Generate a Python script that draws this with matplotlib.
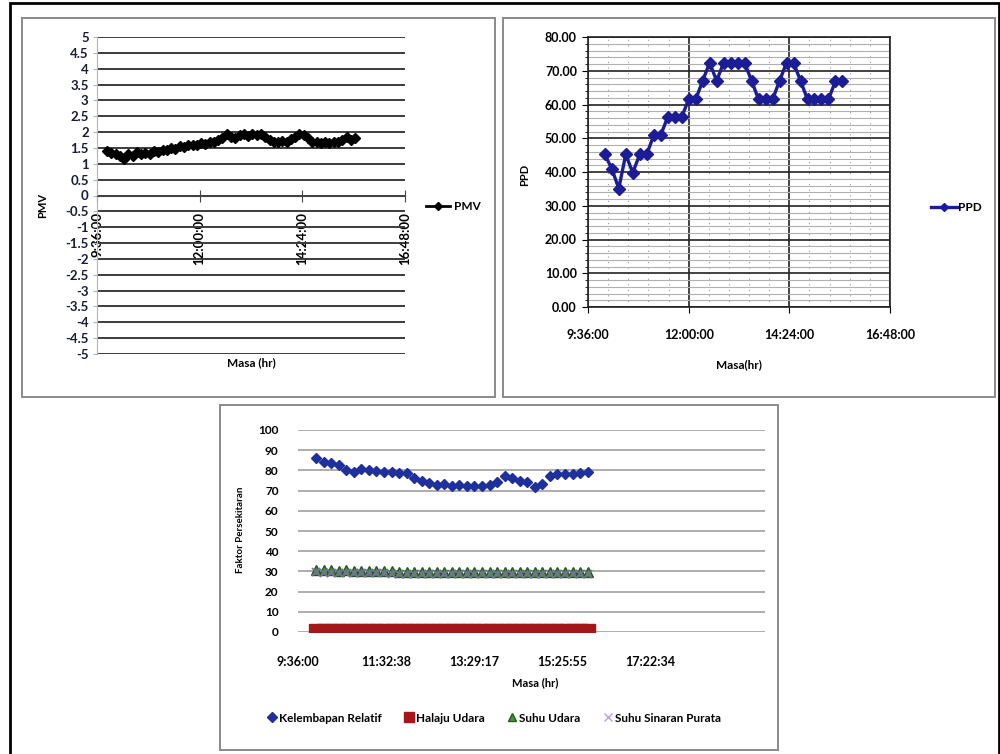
import matplotlib
matplotlib.use('Agg')
import matplotlib.pyplot as plt
from matplotlib.patches import Rectangle
from matplotlib.lines import Line2D
from matplotlib.ticker import MultipleLocator, FuncFormatter

plt.rcParams['font.family'] = ['Lato', 'DejaVu Sans']
plt.rcParams['font.weight'] = 'bold'
plt.rcParams['axes.labelweight'] = 'bold'

# --- data ---
pmv_times = ['9:50', '9:56', '10:02', '10:08', '10:14', '10:20', '10:26', '10:32', '10:38', '10:44',
             '10:50', '10:56', '11:02', '11:08', '11:14', '11:20', '11:26', '11:32', '11:38', '11:44',
             '11:50', '11:56', '12:02', '12:08', '12:14', '12:20', '12:26', '12:32', '12:38', '12:44',
             '12:50', '12:56', '13:02', '13:08', '13:14', '13:20', '13:26', '13:32', '13:38', '13:44',
             '13:50', '13:56', '14:02', '14:08', '14:14', '14:20', '14:26', '14:32', '14:38', '14:44',
             '14:50', '14:56', '15:02', '15:08', '15:14', '15:20', '15:26', '15:32', '15:38']
pmv_values = [1.40, 1.35, 1.30, 1.25, 1.15, 1.30, 1.25, 1.38, 1.30, 1.35,
              1.32, 1.40, 1.38, 1.42, 1.45, 1.50, 1.48, 1.55, 1.52, 1.58,
              1.60, 1.58, 1.65, 1.62, 1.70, 1.68, 1.75, 1.80, 1.95, 1.85,
              1.80, 1.90, 1.95, 1.88, 1.95, 1.90, 1.95, 1.85, 1.75, 1.70,
              1.68, 1.72, 1.70, 1.78, 1.85, 1.95, 1.90, 1.80, 1.70, 1.68,
              1.65, 1.70, 1.65, 1.68, 1.70, 1.75, 1.85, 1.75, 1.80]

ppd_times = ['10:00', '10:10', '10:20', '10:30', '10:40', '10:50', '11:00', '11:10', '11:20', '11:30',
             '11:40', '11:50', '12:00', '12:10', '12:20', '12:30', '12:40', '12:50', '13:00', '13:10',
             '13:20', '13:30', '13:40', '13:50', '14:00', '14:10', '14:20', '14:30', '14:40', '14:50',
             '15:00', '15:10', '15:20', '15:30', '15:40']
ppd_values = [45.2, 41.0, 35.1, 45.2, 39.8, 45.2, 45.2, 50.9, 50.9, 56.3,
              56.3, 56.3, 61.5, 61.5, 67.0, 72.4, 67.0, 72.4, 72.4, 72.4,
              72.4, 67.0, 61.5, 61.5, 61.5, 67.0, 72.4, 72.4, 67.0, 61.5,
              61.5, 61.5, 61.5, 67.0, 67.0]

env_times = ['10:00', '10:10', '10:20', '10:30', '10:40', '10:50', '11:00', '11:10', '11:20', '11:30',
             '11:40', '11:50', '12:00', '12:10', '12:20', '12:30', '12:40', '12:50', '13:00', '13:10',
             '13:20', '13:30', '13:40', '13:50', '14:00', '14:10', '14:20', '14:30', '14:40', '14:50',
             '15:00', '15:10', '15:20', '15:30', '15:40', '15:50', '16:00']
kelembapan = [86.2, 84.0, 83.5, 82.5, 80.0, 79.0, 80.5, 80.0, 79.5, 79.0,
              79.0, 78.5, 78.5, 76.0, 75.0, 74.0, 73.0, 73.5, 72.5, 73.0,
              72.5, 72.5, 72.5, 73.0, 74.5, 77.0, 76.0, 75.0, 74.5, 72.0,
              73.5, 77.0, 78.0, 78.0, 78.0, 78.5, 79.0]
halaju = [0.4, 0.3, 0.5, 0.4, 0.5, 0.5, 0.4, 0.5, 0.5, 0.6,
          0.5, 0.5, 0.7, 0.5, 0.4, 0.5, 0.6, 0.6, 0.5, 0.7,
          0.5, 0.6, 0.5, 0.4, 0.6, 0.6, 0.5, 0.6, 0.5, 0.5,
          0.6, 0.5, 0.5, 0.6, 0.5, 0.5, 0.5]
suhu_udara = [30.8, 30.5, 30.6, 30.3, 30.5, 30.4, 30.2, 30.3, 30.1, 30.2,
              30.0, 29.9, 29.8, 29.9, 29.7, 29.8, 29.7, 29.6, 29.7, 29.8,
              29.6, 29.7, 29.6, 29.7, 29.8, 29.6, 29.7, 29.6, 29.5, 29.6,
              29.7, 29.6, 29.5, 29.6, 29.5, 29.6, 29.5]
suhu_sinaran = [29.5, 29.3, 29.4, 29.2, 29.3, 29.2, 29.0, 29.1, 29.0, 29.1,
                28.9, 28.8, 28.8, 28.9, 28.7, 28.8, 28.7, 28.6, 28.7, 28.8,
                28.6, 28.7, 28.6, 28.7, 28.8, 28.6, 28.7, 28.6, 28.5, 28.6,
                28.7, 28.6, 28.5, 28.6, 28.5, 28.6, 28.5]

top_tick_labels = ['9:36:00', '12:00:00', '14:24:00', '16:48:00']
env_tick_labels = ['9:36:00', '11:32:38', '13:29:17', '15:25:55', '17:22:34']


def hours(t):
    parts = [int(p) for p in t.split(':')]
    while len(parts) < 3:
        parts.append(0)
    return parts[0] + parts[1] / 60 + parts[2] / 3600


W, H = 1000, 754
fig = plt.figure(figsize=(10, 7.54), dpi=100)


def box(x0, y0, x1, y1):
    # pixel box (top-left origin) -> figure fraction
    return [x0 / W, 1 - y1 / H, (x1 - x0) / W, (y1 - y0) / H]


def frame(x0, y0, x1, y1, color='#8a8a8a', lw=1.4):
    b = box(x0, y0, x1, y1)
    fig.add_artist(Rectangle((b[0], b[1]), b[2], b[3], transform=fig.transFigure,
                             fill=False, edgecolor=color, linewidth=lw))


# outer frame and panel boxes
frame(10, 3, 999, 760, color='black', lw=2.0)
frame(22, 18, 495, 397)
frame(503, 18, 995, 397)
frame(220, 405, 778, 750)

# ---------------- PMV ----------------
ax1 = fig.add_axes(box(97, 37, 405, 354))
ax1.plot([hours(t) for t in pmv_times], pmv_values, color='black', marker='D',
         ms=5, lw=2, zorder=3, label='PMV')
ax1.set_xlim(hours(top_tick_labels[0]), hours(top_tick_labels[-1]))
ax1.set_ylim(-5, 5)
ax1.yaxis.set_major_locator(MultipleLocator(0.5))
ax1.yaxis.set_major_formatter(FuncFormatter(lambda v, p: f'{v:g}'))
ax1.grid(axis='y', color='#3c3c3c', lw=1.4)
ax1.set_axisbelow(True)
for s in ['top', 'right']:
    ax1.spines[s].set_visible(False)
ax1.spines['left'].set_color('#b5b5b5')
ax1.spines['bottom'].set_position(('data', 0))
ax1.spines['bottom'].set_color('#444444')
ax1.set_xticks([hours(t) for t in top_tick_labels])
ax1.set_xticklabels(top_tick_labels, rotation=90, fontsize=9.5, va='top')
ax1.tick_params(axis='x', direction='inout', length=8, pad=8, color='#444444')
ax1.tick_params(axis='y', length=3, color='#b5b5b5', labelsize=9.5, pad=3,
                labelcolor='#1a1a3a')
ax1.set_ylabel('PMV', fontsize=8)
ax1.yaxis.set_label_coords((48 - 97) / 308, (354 - 205) / 317)
ax1.set_xlabel('Masa (hr)', fontsize=8.5, va='center')
ax1.xaxis.set_label_coords(0.5, -(363 - 354) / 317)
ax1.legend(loc='center left', bbox_to_anchor=(1.035, 0.464), frameon=False,
           fontsize=8.5, handlelength=2.0, handletextpad=0.3, markerscale=0.8)

# ---------------- PPD ----------------
ax2 = fig.add_axes(box(588, 37, 890, 307))
ax2.plot([hours(t) for t in ppd_times], ppd_values, color='#1c1c96', marker='D',
         ms=6, lw=2.4, zorder=3, label='PPD')
ax2.set_xlim(hours(top_tick_labels[0]), hours(top_tick_labels[-1]))
ax2.set_ylim(0, 80)
ax2.yaxis.set_major_locator(MultipleLocator(10))
ax2.yaxis.set_minor_locator(MultipleLocator(2))
ax2.yaxis.set_major_formatter(FuncFormatter(lambda v, p: f'{v:.2f}'))
ax2.set_xticks([hours(t) for t in top_tick_labels])
ax2.set_xticklabels(top_tick_labels, fontsize=9)
ax2.xaxis.set_minor_locator(MultipleLocator(0.48))
ax2.grid(which='major', color='#222222', lw=1.2)
ax2.grid(which='minor', axis='y', color='#b0b0b0', lw=0.8)
ax2.grid(which='minor', axis='x', color='#9a9a9a', lw=0.8, ls=(0, (1, 4)))
ax2.set_axisbelow(True)
for s in ax2.spines.values():
    s.set_color('#222222')
    s.set_linewidth(1.2)
ax2.tick_params(axis='x', which='major', length=4, pad=12)
ax2.tick_params(axis='x', which='minor', length=0)
ax2.tick_params(axis='y', which='major', length=4, labelsize=9, pad=4)
ax2.tick_params(axis='y', which='minor', length=2)
ax2.set_ylabel('PPD', fontsize=8)
ax2.yaxis.set_label_coords((530 - 588) / 302, (307 - 175) / 270)
ax2.set_xlabel('Masa(hr)', fontsize=8.5, va='center')
ax2.xaxis.set_label_coords(0.5, -(365 - 307) / 270)
ax2.legend(loc='center left', bbox_to_anchor=(1.1, 0.369), frameon=False,
           fontsize=8.5, handlelength=2.2, handletextpad=0.1, markerscale=0.7)

# ---------------- environment ----------------
ax3 = fig.add_axes(box(298, 430, 765, 632))
ex = [hours(t) for t in env_times]
ax3.plot(ex, halaju, ls='none', marker='s', ms=10, color='#a3161a', zorder=3)
ax3.plot(ex, suhu_udara, ls='none', marker='^', ms=7, color='#3f9a30',
         mec='#245a1c', zorder=3)
ax3.plot(ex, suhu_sinaran, ls='none', marker='x', ms=6, mew=1.2, color='#7d6aa8', zorder=3)
ax3.plot(ex, kelembapan, ls='none', marker='D', ms=5.5, color='#1f2f9c', zorder=4)
ax3.set_xlim(hours(env_tick_labels[0]), 19.92)
ax3.set_ylim(0, 100)
ax3.yaxis.set_major_locator(MultipleLocator(10))
ax3.set_xticks([hours(t) for t in env_tick_labels])
ax3.set_xticklabels(env_tick_labels, fontsize=9)
ax3.grid(axis='y', color='#a0a0a0', lw=1.2)
ax3.set_axisbelow(True)
for s in ax3.spines.values():
    s.set_visible(False)
ax3.tick_params(axis='x', length=0, pad=17)
ax3.tick_params(axis='y', length=0, labelsize=8.5, pad=14)
ax3.set_ylabel('Faktor Persekitaran', fontsize=7)
ax3.yaxis.set_label_coords((245 - 298) / 467, (632 - 530) / 202)
ax3.set_xlabel('Masa (hr)', fontsize=8, va='center')
ax3.xaxis.set_label_coords((535 - 298) / 467, -(683 - 632) / 202)

handles = [
    Line2D([], [], ls='none', marker='D', ms=5, color='#1f2f9c'),
    Line2D([], [], ls='none', marker='s', ms=7, color='#a3161a'),
    Line2D([], [], ls='none', marker='^', ms=6, color='#3f9a30', mec='#245a1c'),
    Line2D([], [], ls='none', marker='x', ms=6, mew=1.0, color='#b9a0e0'),
]
fig.legend(handles, ['Kelembapan Relatif', 'Halaju Udara', 'Suhu Udara', 'Suhu Sinaran Purata'],
           loc='center', bbox_to_anchor=(494 / W, 1 - 718 / H), ncol=4, frameon=False,
           fontsize=8.5, handlelength=0.8, handletextpad=0.2, columnspacing=1.9)

fig.savefig('out.png', dpi=100, facecolor='white')
